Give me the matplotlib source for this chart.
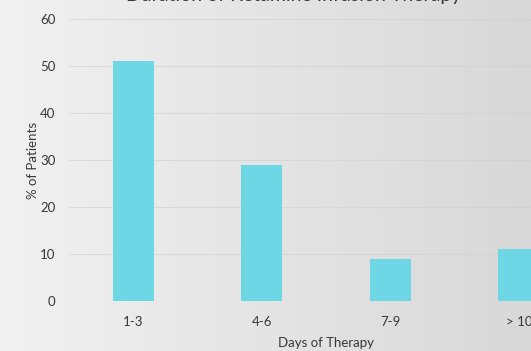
import numpy as np
import matplotlib
matplotlib.use("Agg")
import matplotlib.pyplot as plt

categories = ["1-3", "4-6", "7-9", "> 10"]
percent_patients = [51, 29, 9, 11]
y_ticks = [0, 10, 20, 30, 40, 50, 60]

title = "Duration of Ketamine Infusion Therapy"
x_label = "Days of Therapy"
y_label = "% of Patients"

plt.rcParams["font.family"] = ["Lato", "DejaVu Sans"]
text_color = "#383838"

W, H = 531, 351
fig = plt.figure(figsize=(W / 100, H / 100), dpi=100)

# horizontal grey gradient behind everything
bg = fig.add_axes([0, 0, 1, 1], zorder=-10)
grad = np.linspace(0, 1, 256)[None, :]
bg.imshow(grad, aspect="auto", cmap=matplotlib.colors.LinearSegmentedColormap.from_list(
    "bg", ["#f1f1f1", "#d8d8d8"]), extent=[0, 1, 0, 1])
bg.set_axis_off()

left_px, right_px, bottom_px, top_px = 69.25, 583, 301, 19
ax = fig.add_axes([left_px / W, (H - bottom_px) / H,
                   (right_px - left_px) / W, (bottom_px - top_px) / H])
ax.patch.set_alpha(0)

x = np.arange(len(categories))
ax.bar(x, percent_patients, width=0.32, color="#6dd7e5", zorder=3)

ax.set_xlim(-0.5, len(categories) - 0.5)
ax.set_ylim(0, 60)
ax.set_yticks(y_ticks)
ax.set_xticks(x)
ax.set_xticklabels(categories)
ax.grid(axis="y", color="#cfcfcf", linewidth=0.8, alpha=0.6, zorder=0)
for s in ax.spines.values():
    s.set_visible(False)
ax.tick_params(axis="both", length=0, labelsize=9.5, colors=text_color)
ax.tick_params(axis="y", pad=10)
ax.tick_params(axis="x", pad=11)

ax.set_xlabel(x_label, fontsize=9.5, color=text_color, labelpad=6)
ax.set_ylabel(y_label, fontsize=9.5, color=text_color, labelpad=1)

fig.text(294 / W, 1.0 - 1.5 / H, title, ha="center", va="baseline",
         fontsize=14, color=text_color)

fig.savefig("out.png", dpi=100)
